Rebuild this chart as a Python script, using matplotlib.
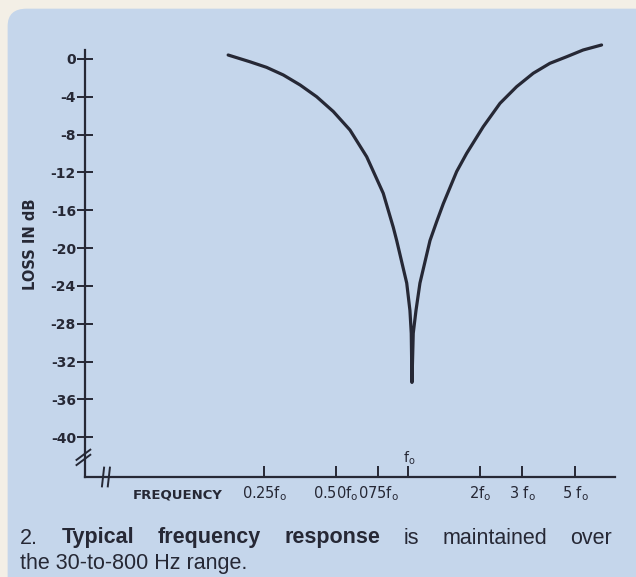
import matplotlib
matplotlib.use('Agg')
import matplotlib.pyplot as plt
from matplotlib.patches import FancyBboxPatch
import numpy as np

# frequency (as multiple of f0) and loss in dB
freqRatio = [0.177, 0.218, 0.256, 0.301, 0.354, 0.415, 0.487, 0.572, 0.672,
             0.788, 0.868, 0.897, 0.988, 1.019, 1.032, 1.039,
             1.052, 1.080, 1.122, 1.236, 1.318, 1.405, 1.598, 1.759, 2.064,
             2.425, 2.846, 3.34, 3.92, 4.61, 5.40, 6.45]
lossDb = [0.42, -0.29, -0.88, -1.69, -2.75, -3.99, -5.55, -7.51, -10.34,
          -14.2, -17.8, -19.2, -23.7, -26.6, -29.0, -34.2,
          -29.0, -26.6, -23.7, -19.2, -17.2, -15.3, -11.9, -9.98, -7.16,
          -4.69, -2.93, -1.51, -0.46, 0.24, 0.95, 1.48]

yTicks = [0, -4, -8, -12, -16, -20, -24, -28, -32, -36, -40]
xTicks = [0.25, 0.5, 0.75, 1.0, 2, 3, 5]
xTickLabels = [r'0.25f$_\mathrm{o}$', r'0.50f$_\mathrm{o}$', r'075f$_\mathrm{o}$', '',
               r'2f$_\mathrm{o}$', r'3 f$_\mathrm{o}$', r'5 f$_\mathrm{o}$']

ink = '#262835'
panel = '#c5d6eb'

fig = plt.figure(figsize=(6.36, 5.77), dpi=100)
fig.patch.set_facecolor('#f3efe6')
bg = FancyBboxPatch((0.012, -0.05), 1.1, 1.035,
                    boxstyle='round,pad=0,rounding_size=0.03',
                    transform=fig.transFigure, facecolor=panel,
                    edgecolor='none', zorder=-5)
fig.patches.append(bg)

ax = fig.add_axes([85/636, 1-477/577, 530/636, 427/577])
ax.set_zorder(2)
ax.set_facecolor('none')
ax.plot(freqRatio, lossDb, color=ink, lw=2.3, solid_capstyle='round',
        solid_joinstyle='round', clip_on=False)
ax.set_xscale('log')
ax.set_xlim(0.0446, 7.34)
ax.set_ylim(-44.2, 0.95)

for s in ['top', 'right']:
    ax.spines[s].set_visible(False)
for s in ['left', 'bottom']:
    ax.spines[s].set_color(ink)
    ax.spines[s].set_linewidth(1.6)

ax.set_yticks(yTicks)
ax.set_yticklabels([str(v) for v in yTicks], fontsize=10, fontweight='bold',
                   color=ink, family='DejaVu Sans')
ax.tick_params(axis='y', direction='inout', length=11, width=1.4, color=ink, pad=1)

ax.xaxis.set_minor_locator(matplotlib.ticker.NullLocator())
ax.set_xticks(xTicks)
ax.set_xticklabels(xTickLabels, fontsize=10.5, color=ink, family='DejaVu Sans')
ax.tick_params(axis='x', direction='in', length=8, width=1.4, color=ink, pad=5)
ax.annotate(r'f$_\mathrm{o}$', xy=(1.0, 0), xycoords=('data', 'axes fraction'),
            xytext=(1, 7), textcoords='offset points', ha='center', va='bottom',
            fontsize=10, color=ink)

# axis breaks
for dy in (0.0, 0.012):
    ax.plot([-0.016, 0.010], [0.028 + dy, 0.052 + dy], transform=ax.transAxes,
            color=ink, lw=1.4, clip_on=False)
for dx in (0.0, 0.011):
    ax.plot([0.036 + dx, 0.032 + dx], [0.022, -0.022], transform=ax.transAxes,
            color=ink, lw=1.4, clip_on=False)

ax.set_ylabel('LOSS IN dB', fontsize=10.5, color=ink, fontweight='semibold')
ax.yaxis.set_label_coords(-0.089, 0.545)
fig.text(133/636, 1-495/577, 'FREQUENCY', fontsize=9.5, color=ink, va='center',
         fontweight='semibold')

# caption, first line justified
capSize = 15.5
words = [('2.', 'normal'), ('Typical', 'bold'), ('frequency', 'bold'),
         ('response', 'bold'), ('is', 'normal'), ('maintained', 'normal'),
         ('over', 'normal')]
left, right = 20/636, 612/636
y1 = 1 - 538/577
texts = [fig.text(0, y1, w, fontsize=capSize, fontweight=fw, color=ink,
                  family='Liberation Sans', va='center') for w, fw in words]
fig.canvas.draw()
r = fig.canvas.get_renderer()
widths = [t.get_window_extent(r).width / fig.bbox.width for t in texts]
gap = (right - left - sum(widths)) / (len(words) - 1)
x = left
for t, w in zip(texts, widths):
    t.set_x(x)
    x += w + gap
fig.text(left, 1 - 563/577, 'the 30-to-800 Hz range.', fontsize=capSize,
         color=ink, family='Liberation Sans', va='center')

fig.savefig('out.png', dpi=100, facecolor=fig.get_facecolor())
